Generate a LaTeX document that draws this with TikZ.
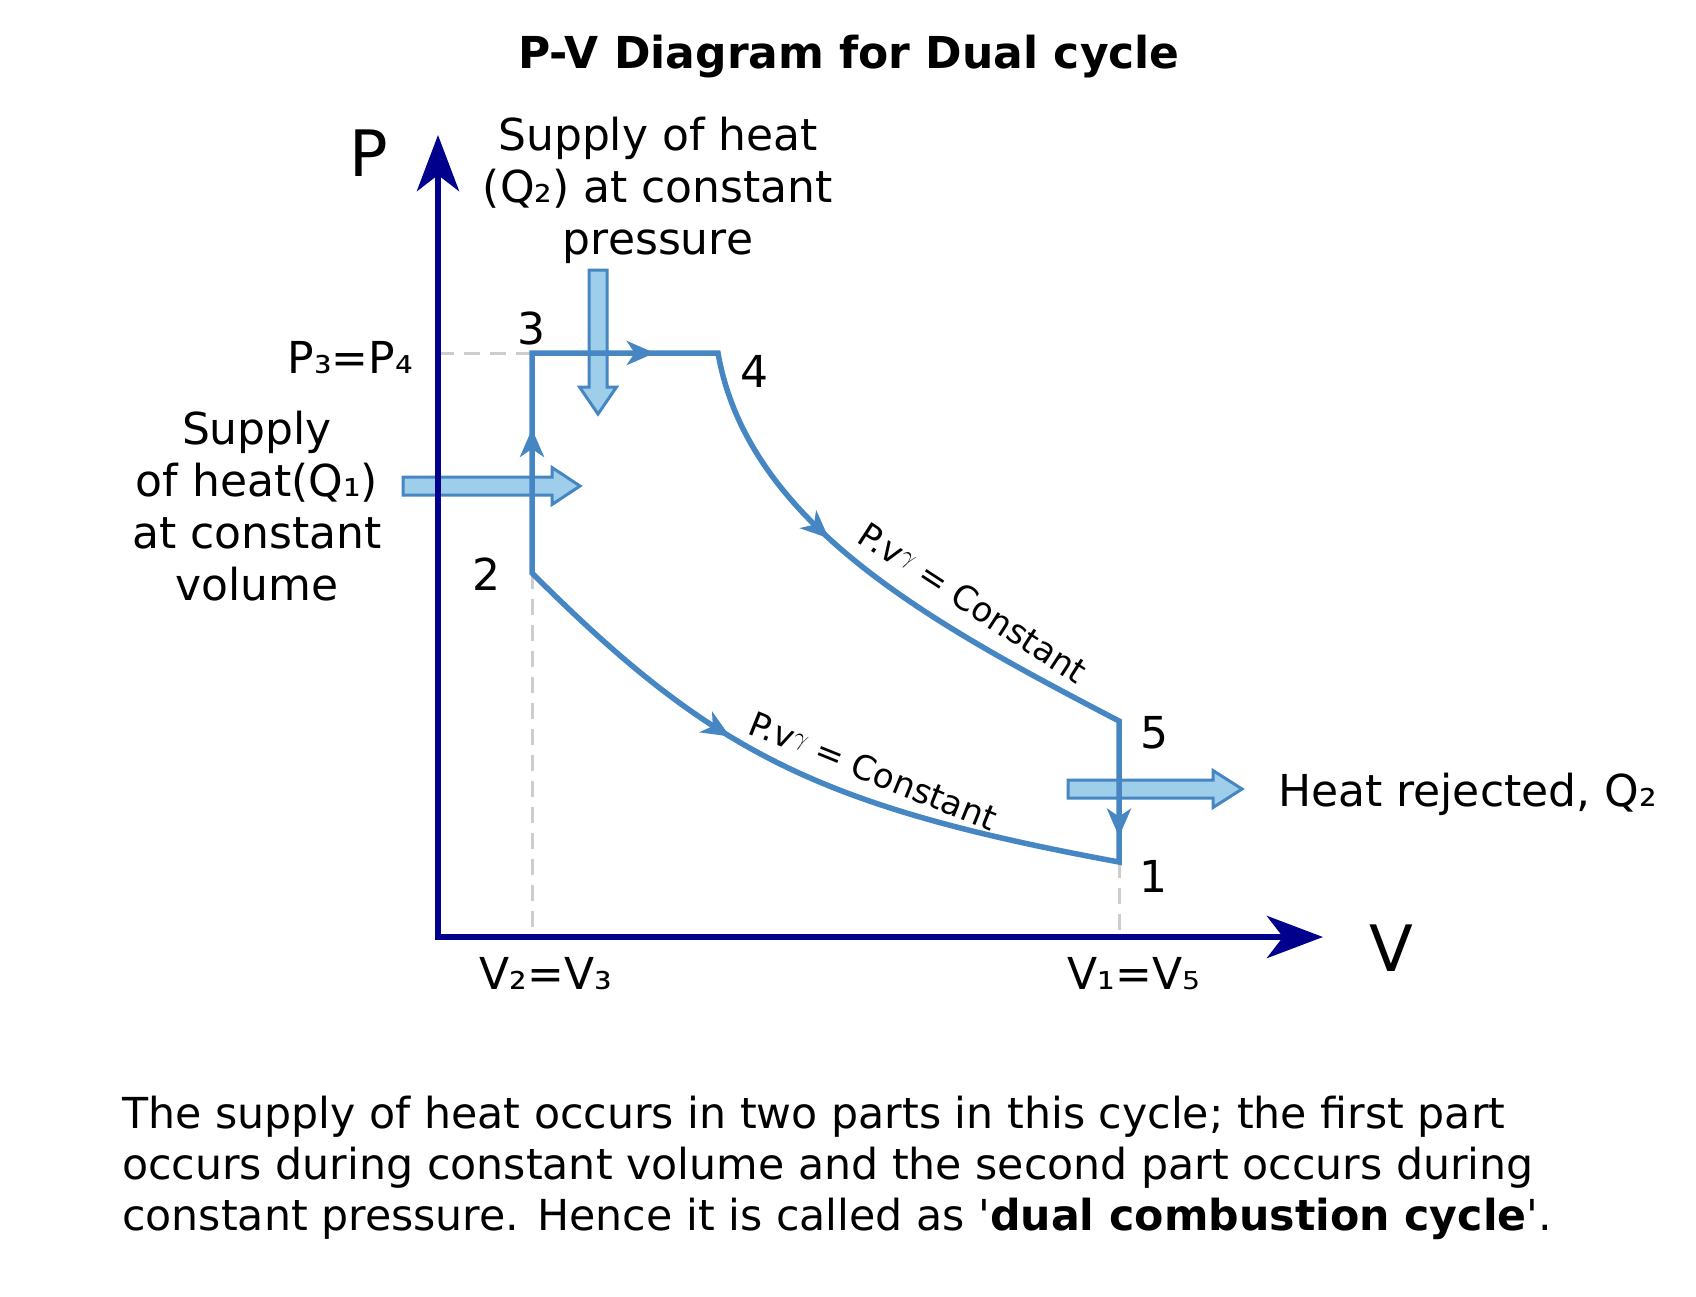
\documentclass[tikz,border=0pt]{standalone}
\usepackage{fontspec}
\setmainfont{DejaVu Sans}
\usetikzlibrary{arrows.meta,decorations.markings}
\definecolor{axisblue}{RGB}{0,0,140}
\definecolor{cycleblue}{RGB}{70,135,195}
\definecolor{blockfill}{RGB}{158,206,234}
\definecolor{dashgray}{RGB}{205,205,205}
\tikzset{
  axisline/.style={draw=axisblue, line width=6.5pt,
    {Stealth[length=56pt,width=42pt,inset=16pt]}-{Stealth[length=56pt,width=42pt,inset=16pt]}},
  cyc/.style={draw=cycleblue, line width=5.5pt, line join=miter},
  guide/.style={draw=dashgray, line width=3pt, dash pattern=on 16pt off 10pt},
  blk/.style={draw=cycleblue, fill=blockfill, line width=3pt, line join=miter},
  flowmark/.style={color=cycleblue, line width=5.5pt, postaction={decorate},
    decoration={markings, mark=at position #1 with {\arrow{Stealth[length=28pt,width=24pt,inset=8pt]}}}},
  lbl/.style={font=\fontsize{44}{52}\selectfont, inner sep=0pt, align=center},
  ptlbl/.style={font=\fontsize{44}{52}\selectfont, inner sep=0pt, anchor=base},
  axlbl/.style={font=\fontsize{64}{70}\selectfont, inner sep=0pt, anchor=base},
  curvelbl/.style={font=\fontsize{34}{38}\selectfont, inner sep=0pt},
}
\begin{document}
\begin{tikzpicture}[x=1pt,y=-1pt]
\fill[white] (0,0) rectangle (1696,1296);
\useasboundingbox (0,0) rectangle (1696,1296);

% key points
\coordinate (O) at (438,937);
\coordinate (Ptop) at (438,135);
\coordinate (Vend) at (1323,937);
\coordinate (p1) at (1119,862);
\coordinate (p2) at (532,573);
\coordinate (p3) at (532,353);
\coordinate (p4) at (718,353);
\coordinate (p5) at (1119,721);
\coordinate (c45a) at (748,525);
\coordinate (c45b) at (935,625);
\coordinate (c21a) at (712,753);
\coordinate (c21b) at (819,806.5);
\coordinate (p2foot) at (532,937);
\coordinate (p1foot) at (1119,937);
\coordinate (p3side) at (438,353);

% dashed guides
\draw[guide] (p3side) -- (p3);
\draw[guide] (p2) -- (p2foot);
\draw[guide] (p1) -- (p1foot);

% block arrows (heat flows)
\coordinate (q1tail) at (403,486);
\draw[blk] (q1tail) ++(0,-9) -- ++(149,0) -- ++(0,-9.5) -- ++(28,18.5) -- ++(-28,18.5) -- ++(0,-9.5) -- ++(-149,0) -- cycle;
\coordinate (q2tail) at (598,270);
\draw[blk] (q2tail) ++(-9,0) -- ++(0,117) -- ++(-9.5,0) -- ++(18.5,27) -- ++(18.5,-27) -- ++(-9.5,0) -- ++(0,-117) -- cycle;
\coordinate (qrtail) at (1068,789);
\draw[blk] (qrtail) ++(0,-9) -- ++(145,0) -- ++(0,-9.5) -- ++(29,18.5) -- ++(-29,18.5) -- ++(0,-9.5) -- ++(-145,0) -- cycle;

% cycle
\draw[cyc] (p2) -- (p3) -- (p4) .. controls (c45a) and (c45b) .. (p5) -- (p1)
  .. controls (c21b) and (c21a) .. cycle;
\path[flowmark=0.655] (p2) -- (p3);
\path[flowmark=0.66] (p3) -- (p4);
\path[flowmark=0.39] (p4) .. controls (c45a) and (c45b) .. (p5);
\path[flowmark=0.82] (p5) -- (p1);
\path[flowmark=0.385] (p2) .. controls (c21a) and (c21b) .. (p1);

% axes
\draw[axisline] (Ptop) -- (O) -- (Vend);

% labels
\node[font=\bfseries\fontsize{44}{52}\selectfont, inner sep=0pt, anchor=base] (title) at (849,68) {P-V Diagram for Dual cycle};
\node[axlbl] (Plbl) at (369,176) {P};
\node[axlbl] (Vlbl) at (1391,971) {V};
\node[ptlbl, anchor=base east] (P34) at (413,373) {P₃=P₄};
\node[ptlbl] (V23) at (546,989) {V₂=V₃};
\node[ptlbl] (V15) at (1134,989) {V₁=V₅};
\node[ptlbl] (n3) at (531,344) {3};
\node[ptlbl] (n4) at (754,387) {4};
\node[ptlbl] (n2) at (486,590) {2};
\node[ptlbl] (n5) at (1154,748) {5};
\node[ptlbl] (n1) at (1153,892) {1};
\node[lbl, anchor=north] (q2txt) at (658,117) {Supply of heat\\(Q₂) at constant\\pressure};
\node[lbl, anchor=north] (q1txt) at (257,411) {Supply\\of heat(Q₁)\\at constant\\volume};
\node[ptlbl, anchor=base west] (rejtxt) at (1278,806) {Heat rejected, Q₂};
\node[curvelbl, rotate=-33] (adia1) at (973,603) {P.v$^{\gamma}$ = Constant};
\node[curvelbl, rotate=-22] (adia2) at (873,771) {P.v$^{\gamma}$ = Constant};
\node[font=\fontsize{42.7}{51}\selectfont, inner sep=0pt, align=left, anchor=north west] (note) at (122,1096)
  {The supply of heat occurs in two parts in this cycle; the first part\\
   occurs during constant volume and the second part occurs during\\
   constant pressure. Hence it is called as \textquotesingle\textbf{dual combustion cycle}\textquotesingle.};
\end{tikzpicture}
\end{document}
